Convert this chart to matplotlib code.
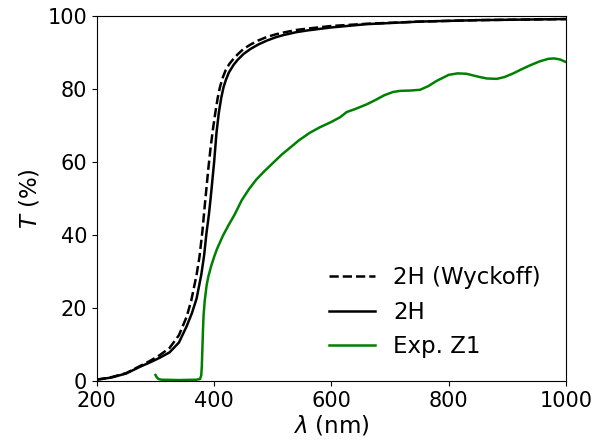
import matplotlib

matplotlib.use("Agg")
import matplotlib.pyplot as plt

# --- data ---
wl_2h = [200, 225, 250, 273, 290, 307, 324, 340, 353, 362, 370, 378, 383, 387,
         391, 394, 397, 400, 404, 408, 412, 416, 420, 425, 433, 440, 450, 462,
         475, 490, 505, 518, 540, 560, 600, 660, 750, 850, 1000]
t_2h = [0.3, 0.9, 2.0, 3.8, 5.0, 6.3, 7.8, 10.5, 14.9, 18.5, 22.5, 29, 34.5,
        40.6, 45.5, 50, 55, 60, 68, 73.5, 77.5, 80.5, 82.5, 84.5, 86.6, 88.0,
        89.6, 91.0, 92.2, 93.3, 94.2, 94.8, 95.6, 96.1, 96.9, 97.8, 98.5, 98.9,
        99.2]

wl_wyck = [200, 225, 250, 273, 290, 307, 324, 340, 353, 361, 370, 375, 380, 384,
           387, 390, 394, 398, 402, 406, 410, 415, 420, 426, 433, 440, 450, 462,
           475, 490, 505, 518, 540, 560, 600, 660, 750, 850, 1000]
t_wyck = [0.3, 1.0, 2.1, 4.0, 5.4, 7.0, 9.0, 12.5, 17.5, 22, 29, 34, 41, 48,
          53, 58, 64, 69, 73.5, 77.5, 80.6, 83.3, 85.3, 86.9, 88.3, 89.5, 91.0,
          92.2, 93.3, 94.3, 95.0, 95.5, 96.2, 96.6, 97.3, 97.9, 98.5, 98.9, 99.2]

wl_z1 = [300, 302, 305, 310, 340, 370, 376, 378, 379, 380, 381, 382, 384, 387,
         390, 395, 400, 405, 415, 425, 435, 447, 460, 472, 484, 500, 515, 530,
         545, 563, 580, 600, 615, 626, 640, 660, 675, 690, 705, 717, 735, 751,
         765, 780, 800, 815, 830, 850, 865, 882, 895, 910, 925, 940, 955, 970,
         980, 990, 1000]
t_z1 = [1.6, 1.0, 0.5, 0.3, 0.2, 0.3, 0.5, 1.5, 4, 9, 14, 18, 22, 26, 28.5,
        31.5, 34, 36.2, 39.8, 42.8, 45.6, 49.5, 52.7, 55.2, 57.2, 59.7, 62.0,
        64.0, 66.0, 68.0, 69.5, 71.0, 72.3, 73.7, 74.5, 75.8, 77.0, 78.3, 79.2,
        79.5, 79.6, 79.8, 80.8, 82.3, 83.9, 84.3, 84.2, 83.4, 82.9, 82.8, 83.3,
        84.3, 85.5, 86.6, 87.6, 88.3, 88.4, 88.1, 87.4]

fig = plt.figure(figsize=(5.94, 4.48), dpi=100)
ax = fig.add_axes([0.163, 0.150, 0.790, 0.814])

ax.plot(wl_wyck, t_wyck, "k--", linewidth=1.8, label="2H (Wyckoff)")
ax.plot(wl_2h, t_2h, "k-", linewidth=1.8, label="2H")
ax.plot(wl_z1, t_z1, color="green", linewidth=1.8, label="Exp. Z1")

ax.set_xlim(200, 1000)
ax.set_ylim(0, 100)
ax.set_xticks([200, 400, 600, 800, 1000])
ax.set_yticks([0, 20, 40, 60, 80, 100])
ax.tick_params(labelsize=15)
ax.set_xlabel(r"$\lambda$ (nm)", fontsize=16.5, labelpad=2)
ax.set_ylabel(r"$T$ (%)", fontsize=16.5)
ax.legend(loc="lower right", frameon=False, fontsize=16.5,
          bbox_to_anchor=(0.99, 0.005))

fig.savefig("out.png", dpi=100)
